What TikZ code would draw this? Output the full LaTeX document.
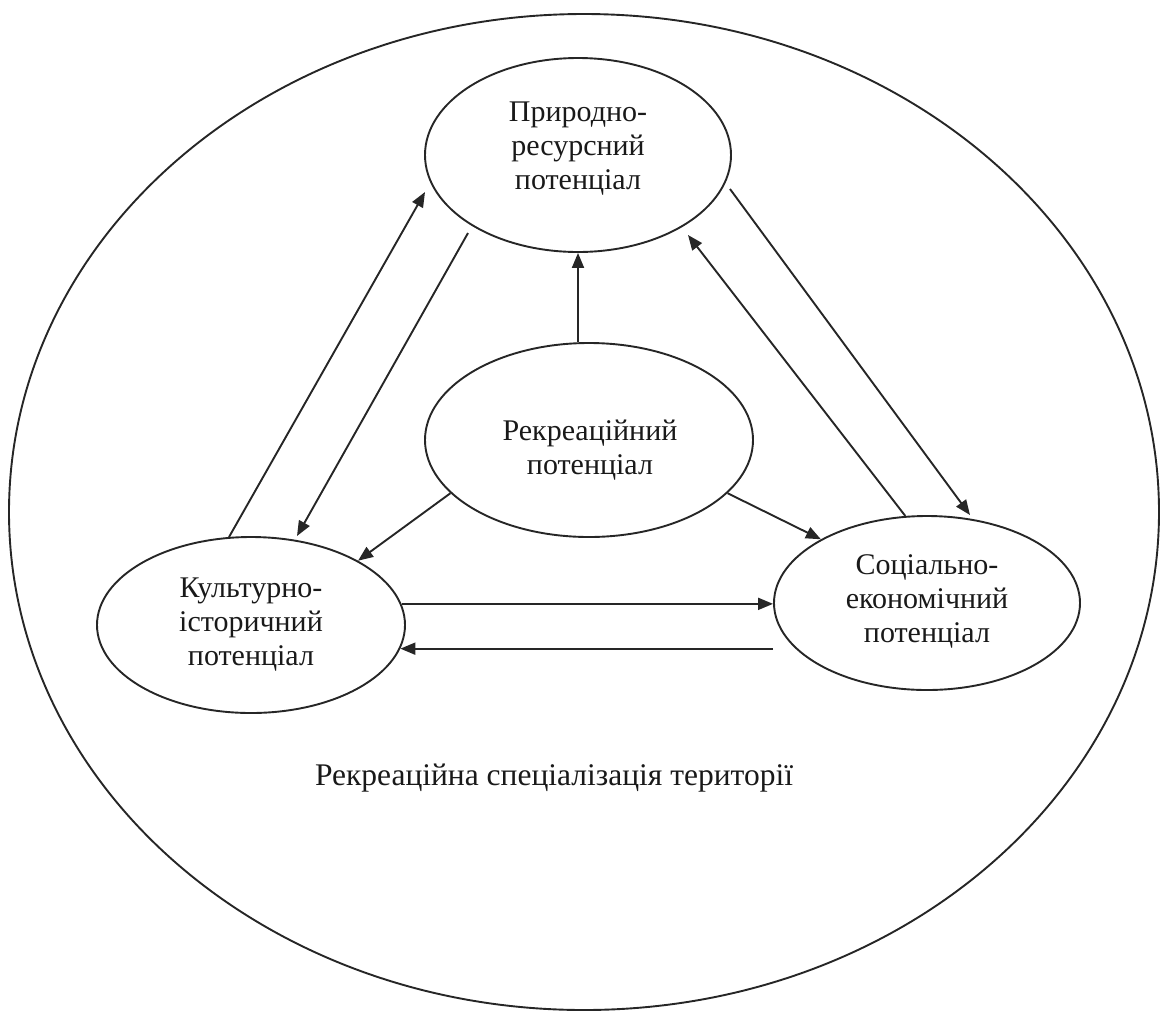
\documentclass[tikz,border=0pt]{standalone}
\usepackage{fontspec}
\setmainfont{Liberation Serif}
\usetikzlibrary{shapes.geometric,arrows.meta}
\begin{document}
\begin{tikzpicture}[x=1pt,y=-1pt,
  line width=1.9pt,
  oval/.style={draw=black!85, ellipse, inner sep=0pt},
  lbl/.style={align=center, inner sep=0pt, text=black!90,
              font=\fontsize{30}{34}\selectfont},
  arr/.style={draw=black!85, -{Triangle[length=15pt,width=12pt]}},
]
\useasboundingbox (0,0) rectangle (1162,1013);

% outer region: the territory
\node[oval, minimum width=1150pt, minimum height=996pt] (outer) at (584,512) {};

% the four potentials
\node[oval, minimum width=306pt, minimum height=194pt] (T) at (578,155) {};
\node[oval, minimum width=328pt, minimum height=194pt] (C) at (589,440) {};
\node[oval, minimum width=308pt, minimum height=176pt] (K) at (251,625) {};
\node[oval, minimum width=306pt, minimum height=174pt] (S) at (927,603) {};

\node[lbl] (T-txt) at (578,149) {Природно-\\ресурсний\\потенціал};
\node[lbl] (C-txt) at (590,450) {Рекреаційний\\потенціал};
\node[lbl] (K-txt) at (251,625) {Культурно-\\історичний\\потенціал};
\node[lbl] (S-txt) at (927,601) {Соціально-\\економічний\\потенціал};

\node[lbl, font=\fontsize{31.5}{35}\selectfont] (terr) at (554,778)
  {Рекреаційна спеціалізація території};

% free ends of the diagonal connectors
\coordinate (kt-tip)   at (425,192);
\coordinate (tk-start) at (468,233);
\coordinate (tk-tip)   at (297,536);
\coordinate (ts-start) at (730,189);
\coordinate (ts-tip)   at (970,515);
\coordinate (st-tip)   at (688,235);

% from the recreational potential outwards
\draw[arr] (C.north -| T.south) -- (T.south);
\draw[arr] (C.201) -- (K.31);
\draw[arr] (C.-21) -- (S.149);

% links between the three component potentials
\draw[arr] (K.104) -- (kt-tip);
\draw[arr] (tk-start) -- (tk-tip);
\draw[arr] (ts-start) -- (ts-tip);
\draw[arr] (S.104) -- (st-tip);
\draw[arr] (K.8) -- (K.8 -| S.west);
\draw[arr] (K.-9 -| S.west) -- (K.-9);
\end{tikzpicture}
\end{document}
